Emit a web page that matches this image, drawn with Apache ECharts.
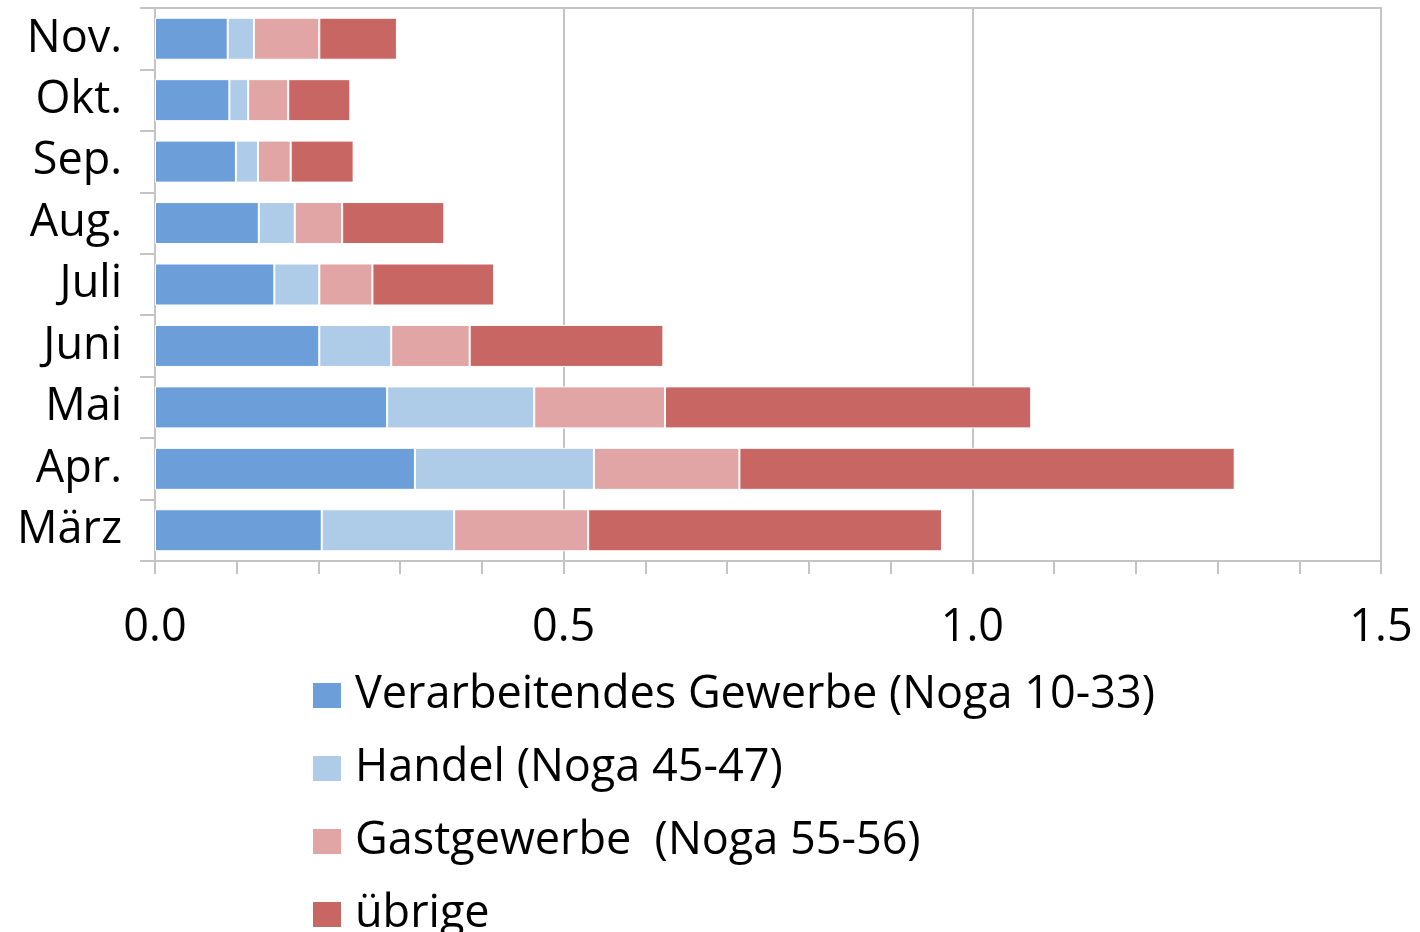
<!DOCTYPE html>
<html><head><meta charset="utf-8">
<script src="https://cdn.jsdelivr.net/npm/echarts@6/dist/echarts.min.js"></script>
<style>html,body{margin:0;padding:0;background:#fff}#c{width:1420px;height:932px}</style>
</head><body><div id="c"></div>
<script>
const categories = ['März','Apr.','Mai','Juni','Juli','Aug.','Sep.','Okt.','Nov.'];
const seriesNames = ['Verarbeitendes Gewerbe (Noga 10-33)','Handel (Noga 45-47)','Gastgewerbe  (Noga 55-56)','übrige'];
const verarbeitend = [0.204,0.318,0.284,0.201,0.146,0.127,0.099,0.091,0.089];
const handel       = [0.162,0.219,0.180,0.088,0.055,0.044,0.027,0.023,0.032];
const gastgewerbe  = [0.164,0.178,0.160,0.096,0.065,0.058,0.040,0.049,0.080];
const uebrige      = [0.433,0.606,0.448,0.237,0.149,0.125,0.077,0.076,0.095];
const xTicks = [0, 0.5, 1.0, 1.5];
const colors = ['#6C9FDA','#AECBE8','#E0A5A4','#C86663'];
const FONT = 'Open Sans';
const grey = '#c4c4c4';
const chart = echarts.init(document.getElementById('c'));
const data = [verarbeitend, handel, gastgewerbe, uebrige];
chart.setOption({
  animation:false,
  grid:{left:155,right:39,top:8,bottom:371,containLabel:false},
  legend:{orient:'vertical',left:306,top:668,height:300,itemWidth:30,itemHeight:27,itemGap:28,icon:'rect',
    textStyle:{fontFamily:FONT,fontSize:45,color:'#000',lineHeight:45,padding:[0,0,0,8]},
    data:seriesNames},
  xAxis:[{type:'value',min:xTicks[0],max:xTicks[xTicks.length-1],interval:0.5,
    axisLine:{show:true,lineStyle:{color:grey,width:2}},
    axisTick:{show:true,length:13,lineStyle:{color:grey,width:2}},
    minorTick:{show:true,splitNumber:5,length:13,lineStyle:{color:grey,width:2}},
    splitLine:{show:true,lineStyle:{color:grey,width:2}},
    axisLabel:{fontFamily:FONT,fontSize:45,color:'#000',margin:45,formatter:v=>v.toFixed(1)}},
    {type:'value',position:'top',min:0,max:1.5,axisLine:{show:true,onZero:false,lineStyle:{color:grey,width:2}},
    axisTick:{show:false},axisLabel:{show:false},splitLine:{show:false}}],
  yAxis:{type:'category',data:categories,
    axisLine:{show:true,lineStyle:{color:grey,width:2}},
    axisTick:{show:true,length:15,lineStyle:{color:grey,width:2}},
    axisLabel:{fontFamily:FONT,fontSize:45,color:'#000',margin:33}},
  series:seriesNames.map((n,i)=>({name:n,type:'bar',stack:'s',barWidth:42,data:data[i],
    itemStyle:{color:colors[i],borderColor:'#fff',borderWidth:1}}))
});
</script></body></html>
